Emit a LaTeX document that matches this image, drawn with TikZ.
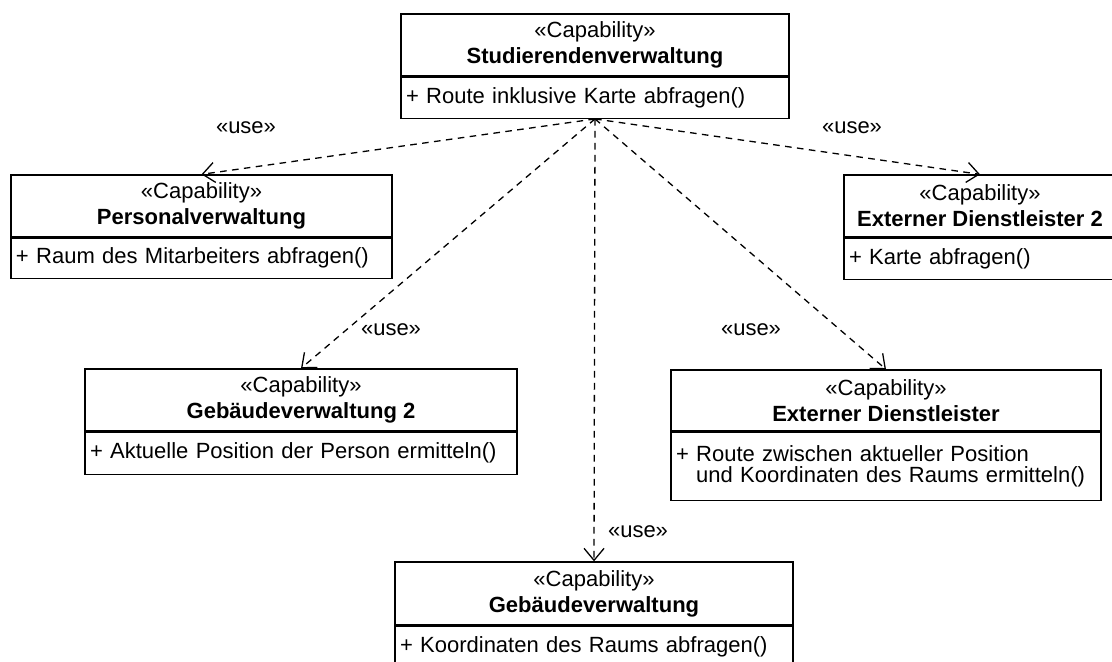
\documentclass[tikz,border=0pt]{standalone}
\usepackage{fontspec}
\setmainfont{Liberation Sans}
\usetikzlibrary{positioning,arrows.meta}
\newcommand{\umlfont}{\fontsize{11pt}{13pt}\selectfont}
\newcommand{\opsfont}{\fontsize{11pt}{10.5pt}\selectfont}
\tikzset{
  capa/.style={draw, line width=0.65pt, align=center, inner sep=0pt,
               minimum height=31pt, font=\umlfont},
  ops/.style={draw, line width=0.65pt, align=left, anchor=north,
              inner xsep=2.5pt, inner ysep=0pt, minimum height=20.5pt, font=\opsfont},
  usedep/.style={-{Straight Barb[length=6pt,width=10pt]}, line width=0.65pt,
                 dash pattern=on 3.3pt off 2.7pt},
  lbl/.style={font=\umlfont, inner sep=0pt}
}

\begin{document}
\begin{tikzpicture}[x=0.5pt, y=-0.5pt]
  \useasboundingbox (0,0) rectangle (1112,662);
  % capabilities
  \node[capa, minimum width=194pt] (stud) at (595,45)
       {«Capability»\\\textbf{Studierendenverwaltung}};
  \node[ops, text width=189pt, below=0pt of stud] (stud-ops)
       {+ Route inklusive Karte abfragen()};
  \node[capa, minimum width=190.5pt] (pers) at (201.5,206)
       {«Capability»\\\textbf{Personalverwaltung}};
  \node[ops, text width=185.5pt, below=0pt of pers, minimum height=20pt] (pers-ops)
       {+ Raum des Mitarbeiters abfragen()};
  \node[capa, minimum width=136pt] (ext2) at (980,206)
       {«Capability»\\\textbf{Externer Dienstleister 2}};
  \node[ops, text width=131pt, below=0pt of ext2] (ext2-ops)
       {+ Karte abfragen()};
  \node[capa, minimum width=216pt] (geb2) at (301,400)
       {«Capability»\\\textbf{Gebäudeverwaltung 2}};
  \node[ops, text width=211pt, below=0pt of geb2, minimum height=21pt] (geb2-ops)
       {+ Aktuelle Position der Person ermitteln()};
  \node[capa, minimum width=215pt, minimum height=30.5pt] (extdl) at (886,400.5)
       {«Capability»\\\textbf{Externer Dienstleister}};
  \node[ops, text width=210pt, below=0pt of extdl, minimum height=34pt] (extdl-ops)
       {+ Route zwischen aktueller Position\\\phantom{+ }und Koordinaten des Raums ermitteln()};
  \node[capa, minimum width=199pt, minimum height=31.5pt] (geb) at (594,593.5)
       {«Capability»\\\textbf{Gebäudeverwaltung}};
  \node[ops, text width=194pt, below=0pt of geb] (geb-ops)
       {+ Koordinaten des Raums abfragen()};
  % dependencies
  \draw[usedep] (stud-ops.south) -- (pers.north);
  \draw[usedep] (stud-ops.south) -- (ext2.north);
  \draw[usedep] (stud-ops.south) -- (geb2.north);
  \draw[usedep] (stud-ops.south) -- (extdl.north);
  \draw[usedep] (stud-ops.south) -- (geb.north);
  \node[lbl] (use-pers) at (246,128) {«use»};
  \node[lbl] (use-ext2) at (852,128) {«use»};
  \node[lbl] (use-geb2) at (391,330) {«use»};
  \node[lbl] (use-extdl) at (751,330) {«use»};
  \node[lbl] (use-geb) at (638,532) {«use»};
\end{tikzpicture}
\end{document}
